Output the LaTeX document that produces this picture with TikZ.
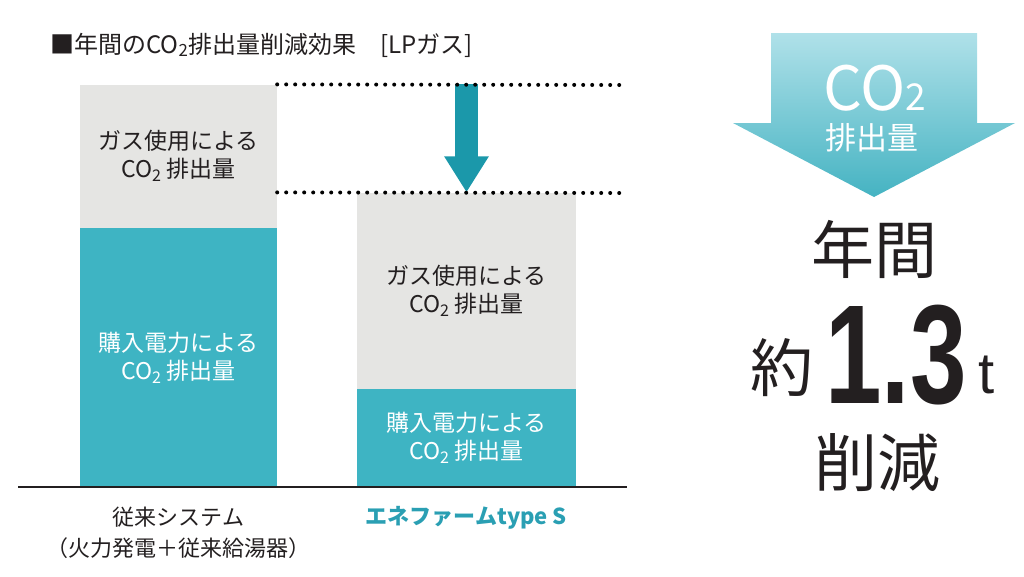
\documentclass[tikz,border=0pt]{standalone}
\usepackage{fontspec}
\setmainfont{Noto Sans CJK JP}
\newfontfamily\numfont{Liberation Sans}
\usetikzlibrary{positioning,arrows.meta}
\definecolor{barteal}{HTML}{3EB4C3}
\definecolor{bargray}{HTML}{E5E5E3}
\definecolor{dropteal}{HTML}{1B98AA}
\definecolor{headtop}{HTML}{B0E1E9}
\definecolor{headbot}{HTML}{45B3C2}
\definecolor{inktext}{HTML}{231F20}
\definecolor{brandteal}{HTML}{2A9FB3}
\newcommand{\COtwo}{CO\textsubscript{2}}
\tikzset{
    co2chart/.style={
        x=1pt, y=-1pt,
        % Stile per le barre (gas)
        gasbar/.style={fill=bargray, text=inktext, align=center,
                       inner sep=0pt, font=\fontsize{23}{28}\selectfont},
        % Stile per le barre (elettricita')
        elecbar/.style={fill=barteal, text=white, align=center,
                        inner sep=0pt, font=\fontsize{23}{28}\selectfont},
        % Stile per le linee guida (puntini)
        guide/.style={line width=4pt, line cap=round,
                      dash pattern=on 0pt off 9pt},
        % Stile per la freccia di riduzione
        drop/.style={draw=dropteal, line width=23pt,
                     -{Triangle[width=42pt, length=36pt]}},
        axisline/.style={draw=inktext, line width=1.5pt},
        % Stile per le etichette
        titletext/.style={text=inktext, inner sep=0pt,
                          font=\fontsize{24}{24}\selectfont},
        catlabel/.style={text=inktext, align=center, inner sep=0pt,
                         font=\fontsize{22}{31}\selectfont},
        brandlabel/.style={text=brandteal, inner sep=0pt,
                           font=\bfseries\fontsize{22}{22}\selectfont},
        headtext/.style={text=white, inner sep=0pt},
        bigcjk/.style={text=inktext, inner sep=0pt,
                       font=\fontsize{63}{63}\selectfont},
        bignum/.style={text=inktext, inner sep=0pt,
                       font=\numfont\bfseries\fontsize{141}{141}\selectfont},
        unit/.style={text=inktext, inner sep=0pt,
                     font=\numfont\fontsize{58}{58}\selectfont}
    }
}
\begin{document}
\begin{tikzpicture}[co2chart]
  \useasboundingbox (0,0) rectangle (1024,576);
  % Titolo
  \node[titletext, anchor=west] (title) at (50,45) {■年間の\COtwo 排出量削減効果　[LPガス]};

  % Barre
  \node[elecbar, minimum width=197pt, minimum height=259pt] (elecA) at (178.5,357.5)
       {購入電力による\\\COtwo\ 排出量};
  \node[gasbar, minimum width=197pt, minimum height=143pt, above=0pt of elecA] (gasA)
       {ガス使用による\\\COtwo\ 排出量};
  \node[elecbar, minimum width=219pt, minimum height=98pt] (elecB) at (466.5,438)
       {購入電力による\\\COtwo\ 排出量};
  \node[gasbar, minimum width=219pt, minimum height=196pt, above=0pt of elecB] (gasB)
       {ガス使用による\\\COtwo\ 排出量};

  % Freccia e linee guida
  \coordinate (dropTop) at (gasB.north |- gasA.north);
  \coordinate (guideL) at (gasA.east |- gasB.north);
  \coordinate (guideT) at (621,85);
  \coordinate (guideB) at (621,193);
  \draw[drop] (dropTop) -- (gasB.north);
  \draw[guide] (gasA.north east) -- (guideT);
  \draw[guide] (guideL) -- (guideB);

  % Asse
  \coordinate (axisL) at (18,487);
  \coordinate (axisR) at (627,487);
  \draw[axisline] (axisL) -- (axisR);

  % Etichette
  \node[catlabel] (sysA) at (178.5,533) {従来システム\\（火力発電＋従来給湯器）};
  \node[brandlabel] (sysB) at (466.5,518) {エネファームtype S};

  % Freccia grande
  \shade[top color=headtop, bottom color=headbot]
    (771,33) -- (977,33) -- (977,123) -- (1015,123) -- (874,197)
    -- (733,123) -- (771,123) -- cycle;
  \node[headtext, anchor=base, font=\fontsize{61}{61}\selectfont] (co2) at (874.5,110)
       {CO{\fontsize{37}{37}\selectfont 2}};
  \node[headtext, font=\fontsize{31}{31}\selectfont] (emit) at (872,138) {排出量};

  % Riduzione
  \node[bigcjk] (yearly) at (874,249) {年間};
  \node[bigcjk] (approx) at (782,368) {約};
  \node[bignum, anchor=base] (amount) at (896,403) {\scalebox{0.72}[1]{1.3}};
  \node[unit, anchor=base] (ton) at (987,393) {t};
  \node[bigcjk] (cut) at (877,463) {削減};
\end{tikzpicture}
\end{document}
